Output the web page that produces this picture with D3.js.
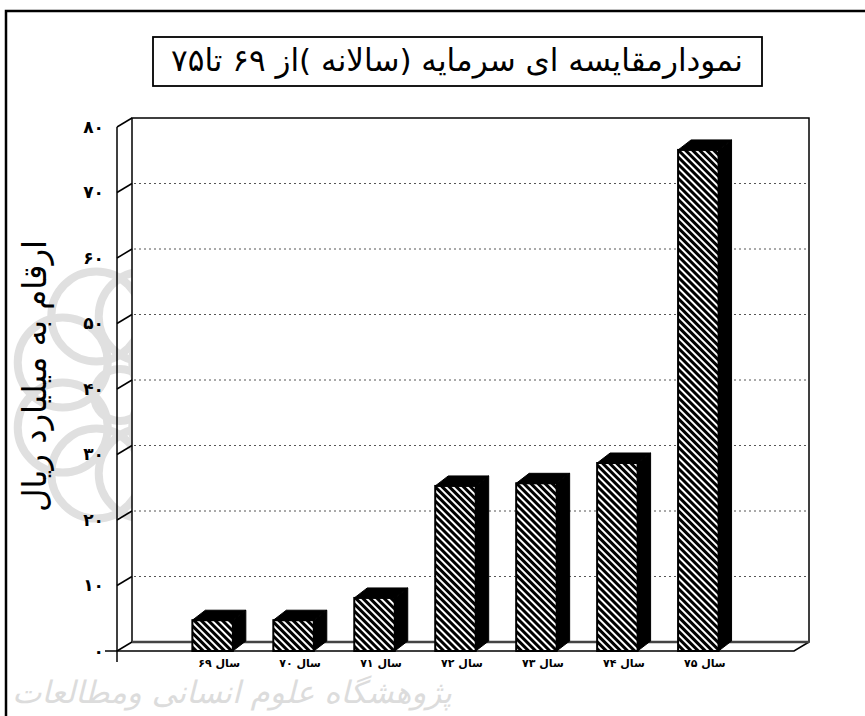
<!DOCTYPE html>
<html><head><meta charset="utf-8">
<script src="https://cdn.jsdelivr.net/npm/d3@7"></script>
<style>html,body{margin:0;padding:0;background:#fff;}svg{display:block;}</style>
</head><body>
<svg id="c" width="865" height="716"></svg>
<script>
// ---- data ----
const categories = ["سال ۶۹", "سال ۷۰", "سال ۷۱", "سال ۷۲", "سال ۷۳", "سال ۷۴", "سال ۷۵"];
const values = [4.7, 4.7, 8.1, 25.2, 25.6, 28.7, 76.5];
const yTicks = [0, 10, 20, 30, 40, 50, 60, 70, 80];
const titleText = "نمودارمقایسه ای سرمایه (سالانه )از ۶۹ تا۷۵";
const yTitleText = "ارقام به میلیارد ریال";
const watermarkText = "پژوهشگاه علوم انسانی ومطالعات";

const fa = s => String(s).replace(/[0-9]/g, d => "۰۱۲۳۴۵۶۷۸۹"[+d]);
const FONT = "'DejaVu Sans', sans-serif";

const svg = d3.select("#c");
const W = 865, H = 716;
svg.append("rect").attr("width", W).attr("height", H).attr("fill", "#fff");

// geometry
const frontX0 = 117, frontX1 = 797;
const wallDX = 15, wallDY = -9;
const y = d3.scaleLinear().domain([0, 80]).range([651, 127]);
const x = d3.scaleBand().domain(categories).range([frontX0, frontX1])
  .paddingInner(0.5).paddingOuter(0.95).align(0.49);
const barDX = 13, barDY = -10;

// ---- watermark ----
const wm = svg.append("g").attr("fill", "none").attr("stroke", "#e0e0e0").attr("stroke-width", 8);
const wc = [120, 395];
d3.range(8).forEach(i => {
  const a = i * Math.PI / 4 + Math.PI / 8;
  wm.append("circle").attr("cx", wc[0] + 62 * Math.cos(a)).attr("cy", wc[1] + 85 * Math.sin(a)).attr("r", 45);
});
wm.append("circle").attr("cx", wc[0]).attr("cy", wc[1]).attr("r", 26);
const wt = svg.append("text").attr("x", 452).attr("y", 703).attr("direction", "rtl").attr("text-anchor", "start")
  .attr("font-family", FONT).attr("font-size", 32).attr("font-style", "italic").attr("fill", "#dcdcdc")
  .text(watermarkText);
{ const L = wt.node().getComputedTextLength(); if (L > 440) wt.attr("font-size", 32 * 440 / L); }

// ---- outer frame ----
svg.append("path").attr("d", `M6,${H} L6,11 L${W},11`).attr("fill", "none").attr("stroke", "#000").attr("stroke-width", 2.5);

// ---- title ----
svg.append("rect").attr("x", 153).attr("y", 37).attr("width", 609).attr("height", 49)
  .attr("fill", "#fff").attr("stroke", "#000").attr("stroke-width", 1.8);
const tt = svg.append("text").attr("x", 457).attr("y", 71).attr("text-anchor", "middle")
  .attr("direction", "rtl").attr("font-family", FONT).attr("font-size", 24).attr("fill", "#000").text(titleText);
{ const L = tt.node().getComputedTextLength(); tt.attr("font-size", 24 * 572 / L); }

// ---- back wall & floor ----
const bx0 = frontX0 + wallDX, bx1 = frontX1 + wallDX - 3;
const by = v => y(v) + wallDY;
svg.append("rect").attr("x", bx0).attr("y", by(80)).attr("width", bx1 - bx0).attr("height", by(0) - by(80))
  .attr("fill", "#fff").attr("stroke", "#000").attr("stroke-width", 1.5);
// gridlines on back wall
svg.append("g").selectAll("line").data(yTicks.filter(t => t > 0 && t < 80)).join("line")
  .attr("x1", bx0 + 2).attr("x2", bx1 - 1).attr("y1", d => by(d)).attr("y2", d => by(d))
  .attr("stroke", "#555").attr("stroke-width", 1).attr("stroke-dasharray", "2,3");
// side wall ticks (diagonals)
svg.append("g").selectAll("line").data(yTicks).join("line")
  .attr("x1", frontX0).attr("y1", d => y(d)).attr("x2", bx0).attr("y2", d => by(d))
  .attr("stroke", "#000").attr("stroke-width", 1.5);
// floor
svg.append("path").attr("d", `M${frontX0},${y(0)} L${frontX1 - 3},${y(0)} L${bx1},${by(0)}`)
  .attr("fill", "none").attr("stroke", "#000").attr("stroke-width", 1.5);
svg.append("line").attr("x1", bx0).attr("x2", bx1).attr("y1", by(0)).attr("y2", by(0))
  .attr("stroke", "#444").attr("stroke-width", 2.5);
// front axis
svg.append("line").attr("x1", frontX0).attr("x2", frontX0).attr("y1", y(80)).attr("y2", y(0) + 11)
  .attr("stroke", "#000").attr("stroke-width", 1.5);
svg.append("line").attr("x1", frontX0 - 12).attr("x2", frontX0).attr("y1", y(0)).attr("y2", y(0))
  .attr("stroke", "#000").attr("stroke-width", 1.5);

// y axis labels
const yAxis = d3.axisLeft(y).tickValues(yTicks).tickFormat(fa).tickSize(0).tickPadding(13);
const ga = svg.append("g").attr("transform", `translate(${frontX0},0)`).call(yAxis);
ga.select(".domain").remove();
ga.selectAll("text").attr("font-family", FONT).attr("font-size", 17).attr("font-weight", "bold").attr("fill", "#000");

// ---- hatch pattern ----
const defs = svg.append("defs");
const pat = defs.append("pattern").attr("id", "hatch").attr("patternUnits", "userSpaceOnUse")
  .attr("width", 5).attr("height", 5).attr("patternTransform", "rotate(-45)");
pat.append("rect").attr("width", 5).attr("height", 5).attr("fill", "#000");
pat.append("rect").attr("x", 0).attr("y", 0).attr("width", 2).attr("height", 5).attr("fill", "#fff");

// ---- bars ----
const bars = svg.append("g").selectAll("g").data(categories.map((c, i) => ({ c, v: values[i] }))).join("g");
bars.append("path") // side face
  .attr("d", d => { const x0 = x(d.c) + x.bandwidth(), t = y(d.v), b = y(0);
    return `M${x0},${t} L${x0 + barDX},${t + barDY} L${x0 + barDX},${b + barDY} L${x0},${b} Z`; })
  .attr("fill", "#000").attr("stroke", "#000");
bars.append("path") // top face
  .attr("d", d => { const x0 = x(d.c), x1 = x0 + x.bandwidth(), t = y(d.v);
    return `M${x0},${t} L${x0 + barDX},${t + barDY} L${x1 + barDX},${t + barDY} L${x1},${t} Z`; })
  .attr("fill", "#000").attr("stroke", "#000");
bars.append("rect") // front face
  .attr("x", d => x(d.c)).attr("y", d => y(d.v)).attr("width", x.bandwidth()).attr("height", d => y(0) - y(d.v))
  .attr("fill", "url(#hatch)").attr("stroke", "#000").attr("stroke-width", 2);

// x labels
svg.append("g").selectAll("text").data(categories).join("text")
  .attr("x", d => x(d) + x.bandwidth() / 2 + barDX / 2).attr("y", 667)
  .attr("text-anchor", "middle").attr("direction", "rtl")
  .attr("font-family", FONT).attr("font-size", 11).attr("font-weight", "bold").attr("fill", "#000")
  .text(d => d);

// y title
const yt = svg.append("text").attr("transform", "translate(46,376) rotate(-90)").attr("text-anchor", "middle")
  .attr("direction", "rtl").attr("font-family", FONT).attr("font-size", 22).attr("fill", "#000").text(yTitleText);
{ const L = yt.node().getComputedTextLength(); yt.attr("font-size", 22 * 272 / L); }
</script>
</body></html>
